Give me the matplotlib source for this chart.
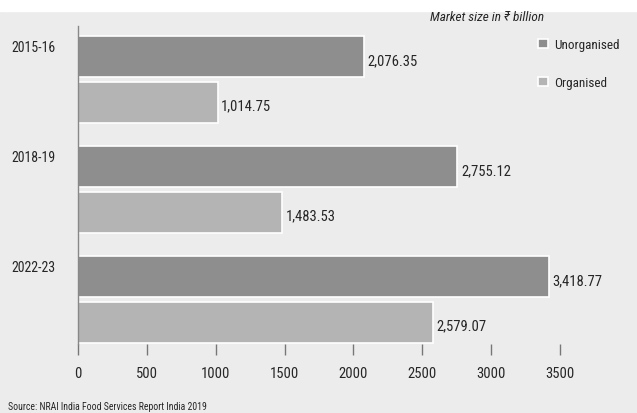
import numpy as np
import matplotlib.pyplot as plt
from matplotlib.patches import Rectangle

# Daten
years = ["2015-16", "2018-19", "2022-23"]
unorganised = [2076.35, 2755.12, 3418.77]
organised = [1014.75, 1483.53, 2579.07]
xticks = [0, 500, 1000, 1500, 2000, 2500, 3000, 3500]

bg = "#ececec"
col_unorg = "#8e8e8e"
col_org = "#b4b4b4"
txt = "#262626"

plt.rcParams["font.family"] = ["Roboto Condensed", "DejaVu Sans"]

fig = plt.figure(figsize=(6.37, 4.14), dpi=100, facecolor=bg)
fig.patches.append(Rectangle((0, 0.972), 1, 0.03, transform=fig.transFigure,
                             color="white", zorder=0))
ax = fig.add_axes([0.1225, 0.1667, 0.80, 0.768])
ax.set_facecolor(bg)

y = np.arange(len(years))
h = 0.375
ax.barh(y - 0.205, unorganised, h, color=col_unorg, edgecolor="white", linewidth=1.2,
        label="Unorganised")
ax.barh(y + 0.212, organised, h, color=col_org, edgecolor="white", linewidth=1.2,
        label="Organised")

for yi, v in zip(y - 0.205, unorganised):
    ax.text(v + 25, yi + 0.04, f"{v:,.2f}", va="center", ha="left", fontsize=10.5, color=txt)
for yi, v in zip(y + 0.212, organised):
    ax.text(v + 25, yi + 0.03, f"{v:,.2f}", va="center", ha="left", fontsize=10.5, color=txt)

ax.set_xlim(0, 3700)
ax.set_ylim(2.41, -0.48)
ax.set_xticks(xticks)
ax.set_xticklabels([str(t) for t in xticks], fontsize=10.5, color=txt)
ax.set_yticks(y - 0.3)
ax.set_yticklabels(years, fontsize=10, color=txt)
ax.tick_params(axis="y", length=0, pad=16)
ax.tick_params(axis="x", length=8, width=1, color="#777777", pad=8)

for s in ["top", "right", "bottom"]:
    ax.spines[s].set_visible(False)
ax.spines["left"].set_color("#888888")
ax.spines["left"].set_linewidth(1)

fig.text(0.675, 0.957, "Market size in \u20b9 billion", fontsize=9.5, style="italic",
         color=txt, va="center", ha="left")

leg = ax.legend(loc="upper left", bbox_to_anchor=(0.88, 1.0), frameon=False,
                handlelength=0.7, handleheight=0.7, handletextpad=0.5,
                labelspacing=1.9, fontsize=9.5, labelcolor=txt)

fig.text(0.012, 0.004, "Source: NRAI India Food Services Report India 2019", fontsize=7,
         color=txt, va="bottom", ha="left")

fig.savefig("out.png", dpi=100, facecolor=bg)
